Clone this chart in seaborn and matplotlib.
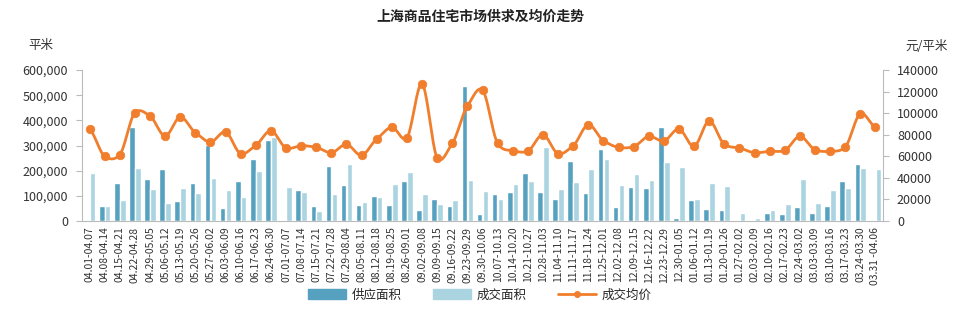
import numpy as np
import pandas as pd
import matplotlib
matplotlib.use("Agg")
import matplotlib.pyplot as plt
import seaborn as sns
from matplotlib.lines import Line2D

weeks = ["04.01-04.07", "04.08-04.14", "04.15-04.21", "04.22-04.28", "04.29-05.05", "05.06-05.12",
         "05.13-05.19", "05.20-05.26", "05.27-06.02", "06.03-06.09", "06.10-06.16", "06.17-06.23",
         "06.24-06.30", "07.01-07.07", "07.08-07.14", "07.15-07.21", "07.22-07.28", "07.29-08.04",
         "08.05-08.11", "08.12-08.18", "08.19-08.25", "08.26-09.01", "09.02-09.08", "09.09-09.15",
         "09.16-09.22", "09.23-09.29", "09.30-10.06", "10.07-10.13", "10.14-10.20", "10.21-10.27",
         "10.28-11.03", "11.04-11.10", "11.11-11.17", "11.18-11.24", "11.25-12.01", "12.02-12.08",
         "12.09-12.15", "12.16-12.22", "12.23-12.29", "12.30-01.05", "01.06-01.12", "01.13-01.19",
         "01.20-01.26", "01.27-02.02", "02.03-02.09", "02.10-02.16", "02.17-02.23", "02.24-03.02",
         "03.03-03.09", "03.10-03.16", "03.17-03.23", "03.24-03.30", "03.31 -04.06"]

supply = [0, 58000, 150000, 372000, 168000, 207000, 78000, 152000, 302000, 50000, 160000, 247000,
          322000, 0, 124000, 61000, 220000, 142000, 65000, 100000, 65000, 160000, 44000, 86000,
          61000, 538000, 28000, 106000, 114000, 192000, 114000, 86000, 238000, 110000, 287000, 54000,
          136000, 130000, 375000, 12000, 82000, 48000, 44000, 0, 0, 31000, 27000, 56000,
          31000, 60000, 160000, 228000, 0]

deal = [192000, 60000, 82000, 210000, 128000, 70000, 132000, 110000, 171000, 124000, 94000, 199000,
        332000, 135000, 114000, 40000, 106000, 226000, 74000, 94000, 146000, 195000, 106000, 68000,
        85000, 163000, 118000, 89000, 146000, 160000, 294000, 128000, 154000, 207000, 245000, 142000,
        188000, 164000, 234000, 213000, 86000, 150000, 139000, 31000, 12000, 44000, 69000, 168000,
        72000, 122000, 132000, 211000, 207000]

price = [85000, 60000, 61500, 100400, 97300, 78800, 96400, 81900, 73200, 82500, 62400, 70200,
         83700, 67700, 69800, 68300, 63300, 71100, 60900, 76000, 86900, 77200, 127000, 58700,
         72000, 106600, 121400, 72000, 65200, 64800, 80000, 62400, 69800, 89300, 74500, 68300,
         68900, 78500, 74200, 85300, 69200, 92700, 71100, 67700, 63300, 64600, 65500, 78500,
         66100, 64600, 68600, 99500, 87000]

series_names = ["供应面积", "成交面积", "成交均价"]

c_supply = "#56A1BF"
c_deal = "#ABD4E1"
c_price = "#F07E2C"

sns.set_style("white")
plt.rcParams['font.family'] = ['Noto Sans CJK SC', 'DejaVu Sans']
plt.rcParams['axes.unicode_minus'] = False

df = pd.DataFrame({
    "week": weeks * 2,
    "area": supply + deal,
    "kind": [series_names[0]] * len(weeks) + [series_names[1]] * len(weeks),
})

fig = plt.figure(figsize=(9.6, 3.13), dpi=100)
ax = fig.add_axes([82 / 960, 1 - 221 / 313, (883 - 82) / 960, (221 - 70) / 313])

sns.barplot(data=df, x="week", y="area", hue="kind", palette=[c_supply, c_deal],
            width=0.78, gap=0.05, ax=ax, legend=False, saturation=1)

ax.set_ylim(0, 600000)
ax.set_yticks(np.arange(0, 600001, 100000))
ax.set_yticklabels([f"{v:,}" for v in range(0, 600001, 100000)], fontsize=9, color="#333333")
ax.set_xlim(-0.5, len(weeks) - 0.5)
ax.set_xlabel("")
ax.set_ylabel("")
ax.set_xticks(range(len(weeks)))
ax.set_xticklabels(weeks, rotation=90, fontsize=7.5, color="#333333")
ax.tick_params(axis="x", which="major", length=0, pad=4)
ax.set_xticks(np.arange(-0.5, len(weeks), 1), minor=True)
ax.tick_params(axis="x", which="minor", length=4, color="#bbbbbb", width=0.8)
ax.tick_params(axis="y", length=4, color="#bbbbbb", width=0.8, pad=6)

ax2 = ax.twinx()
x = np.arange(len(price), dtype=float)
p = np.array(price, dtype=float)
# Catmull-Rom style smoothing of the line through the data points
pp = np.concatenate([[p[0]], p, [p[-1]]])
xs, ys = [], []
for i in range(len(p) - 1):
    p0, p1, p2, p3 = pp[i], pp[i + 1], pp[i + 2], pp[i + 3]
    t = np.linspace(0, 1, 21)[:-1] if i < len(p) - 2 else np.linspace(0, 1, 21)
    m1 = (p2 - p0) / 2 * 0.8
    m2 = (p3 - p1) / 2 * 0.8
    h00 = 2 * t**3 - 3 * t**2 + 1
    h10 = t**3 - 2 * t**2 + t
    h01 = -2 * t**3 + 3 * t**2
    h11 = t**3 - t**2
    ys.append(h00 * p1 + h10 * m1 + h01 * p2 + h11 * m2)
    xs.append(x[i] + t)
xs = np.concatenate(xs)
ys = np.concatenate(ys)
ax2.plot(xs, ys, color=c_price, lw=2, zorder=3)
sns.scatterplot(x=x, y=p, color=c_price, s=38, edgecolor=c_price, ax=ax2, zorder=4, legend=False)

ax2.set_ylim(0, 140000)
ax2.set_yticks(np.arange(0, 140001, 20000))
ax2.set_yticklabels([str(v) for v in range(0, 140001, 20000)], fontsize=9, color="#333333")
ax2.tick_params(axis="y", length=4, color="#bbbbbb", width=0.8, pad=6)
ax2.set_xlim(-0.5, len(weeks) - 0.5)

for a in (ax, ax2):
    a.spines["top"].set_visible(False)
    for s in ("left", "right", "bottom"):
        a.spines[s].set_color("#bbbbbb")
        a.spines[s].set_linewidth(0.8)
ax.spines["right"].set_visible(False)
ax2.spines["left"].set_visible(False)
ax2.spines["bottom"].set_visible(False)

fig.text(0.5, 1 - 17 / 313, "上海商品住宅市场供求及均价走势", ha="center", va="center",
         fontsize=10, fontweight="bold", color="#222222")
fig.text(28 / 960, 1 - 46 / 313, "平米", ha="left", va="center", fontsize=9, color="#333333")
fig.text(905 / 960, 1 - 46 / 313, "元/平米", ha="left", va="center", fontsize=9, color="#333333")

handles = [
    plt.Rectangle((0, 0), 1, 1, color=c_supply),
    plt.Rectangle((0, 0), 1, 1, color=c_deal),
    Line2D([0], [0], color=c_price, lw=2, marker="o", markersize=4),
]
fig.legend(handles, series_names, loc="center", bbox_to_anchor=(0.5, 1 - 295 / 313), ncol=3,
           frameon=False, fontsize=9, handlelength=3, handleheight=0.8, columnspacing=2.5,
           handletextpad=0.5)

fig.savefig("out.png", dpi=100)
